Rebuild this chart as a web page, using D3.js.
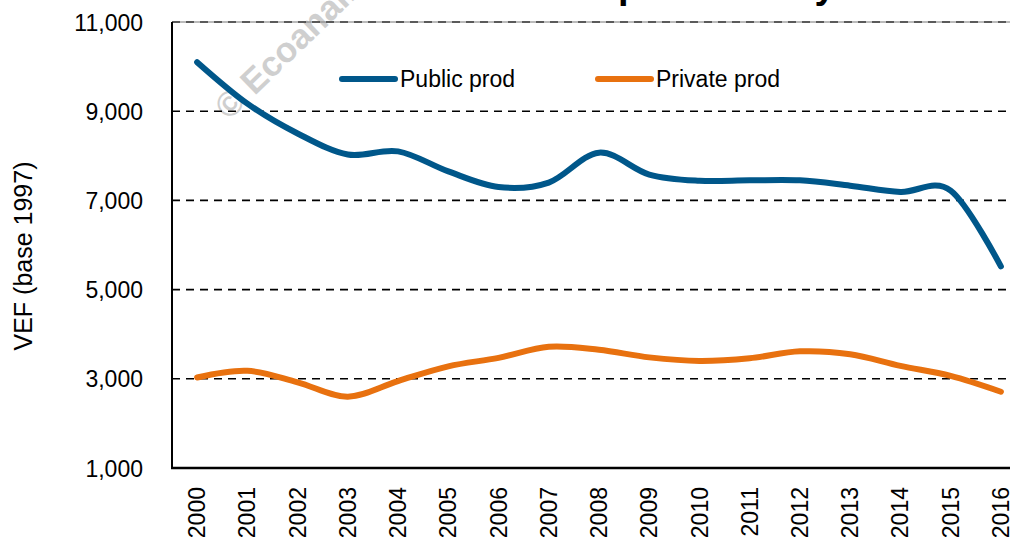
<!DOCTYPE html>
<html>
<head>
<meta charset="utf-8">
<script src="https://cdn.jsdelivr.net/npm/d3@7"></script>
<style>
  body { margin: 0; background: #fff; }
  svg { display: block; font-family: "Liberation Sans", Arial, sans-serif; }
</style>
</head>
<body>
<svg id="chart" width="1010" height="540"></svg>
<script>
var years = ["2000","2001","2002","2003","2004","2005","2006","2007","2008","2009","2010","2011","2012","2013","2014","2015","2016"];
var publicProd = [10100, 9170, 8500, 8030, 8100, 7650, 7300, 7400, 8070, 7580, 7440, 7450, 7450, 7330, 7190, 7220, 5520];
var privateProd = [3030, 3180, 2920, 2600, 2950, 3280, 3470, 3720, 3650, 3480, 3400, 3460, 3615, 3550, 3290, 3065, 2710];
var yTicks = [1000, 3000, 5000, 7000, 9000, 11000];
var seriesNames = ["Public prod", "Private prod"];
var seriesColors = ["#00578A", "#E8710F"];

var cfg = {
  left : 172,
  top : 22,
  bottom : 468,
  right : 1026,
  lineWidth : 6
};

var svg = d3.select("#chart");

var x = d3.scaleBand()
  .domain(years)
  .range([cfg.left, cfg.right]);
var y = d3.scaleLinear()
  .domain([1000, 11000])
  .range([cfg.bottom, cfg.top]);

function xc(d){
  return x(d) + x.bandwidth()/2;
}

// title, cut off by the top of the picture
svg.append("text")
  .attr("x", 502)
  .attr("y", -2)
  .attr("font-size", 38)
  .attr("font-weight", "bold")
  .attr("fill", "#000")
  .text("Labor productivity");

// watermark
svg.append("text")
  .attr("transform", "translate(229,121) rotate(-44)")
  .attr("font-size", 35)
  .attr("font-weight", "bold")
  .attr("fill", "#cfcfcf")
  .text("\u00a9 Ecoanal\u00edtica");

// dashed grid
svg.append("g")
  .selectAll("line")
  .data(yTicks.filter(function(d){ return d > 1000; }))
  .enter()
  .append("line")
  .attr("x1", cfg.left)
  .attr("x2", cfg.right)
  .attr("y1", function(d){ return y(d); })
  .attr("y2", function(d){ return y(d); })
  .attr("stroke", "#000")
  .attr("stroke-width", 1.6)
  .attr("stroke-dasharray", "8,6");

// frame top
svg.append("line")
  .attr("x1", cfg.left).attr("x2", cfg.right)
  .attr("y1", y(11000)).attr("y2", y(11000))
  .attr("stroke", "#777")
  .attr("stroke-width", 1);

// y axis labels
var yAxis = svg.append("g")
  .attr("transform", "translate(" + (cfg.left - 29) + ",0)")
  .call(d3.axisLeft(y).tickValues(yTicks).tickSize(0).tickPadding(0).tickFormat(d3.format(",")));
yAxis.select(".domain").remove();
yAxis.selectAll("text")
  .attr("font-size", 23)
  .attr("font-family", "Liberation Sans, Arial, sans-serif")
  .attr("fill", "#000")
  .attr("dy", "0.35em");

// x axis labels
var xAxis = svg.append("g")
  .attr("transform", "translate(0," + cfg.bottom + ")")
  .call(d3.axisBottom(x).tickSize(0));
xAxis.select(".domain").remove();
xAxis.selectAll("text")
  .attr("font-size", 23)
  .attr("font-family", "Liberation Sans, Arial, sans-serif")
  .attr("fill", "#000")
  .attr("text-anchor", "end")
  .attr("transform", "rotate(-90)")
  .attr("x", -19)
  .attr("y", 0)
  .attr("dy", "0.35em");

// axis lines
svg.append("line")
  .attr("x1", cfg.left).attr("x2", cfg.left)
  .attr("y1", cfg.top).attr("y2", cfg.bottom)
  .attr("stroke", "#000").attr("stroke-width", 2);
svg.append("line")
  .attr("x1", cfg.left - 1).attr("x2", cfg.right)
  .attr("y1", cfg.bottom).attr("y2", cfg.bottom)
  .attr("stroke", "#000").attr("stroke-width", 2.5);

// y axis title
svg.append("text")
  .attr("transform", "translate(23,256) rotate(-90)")
  .attr("text-anchor", "middle")
  .attr("dy", "0.35em")
  .attr("font-size", 25)
  .attr("fill", "#000")
  .text("VEF (base 1997)");

// series
var line = d3.line()
  .x(function(d, i){ return xc(years[i]); })
  .y(function(d){ return y(d); })
  .curve(d3.curveCardinal.tension(0));

[publicProd, privateProd].forEach(function(values, k){
  svg.append("path")
    .datum(values)
    .attr("d", line)
    .attr("fill", "none")
    .attr("stroke", seriesColors[k])
    .attr("stroke-width", cfg.lineWidth)
    .attr("stroke-linecap", "round")
    .attr("stroke-linejoin", "round");
});

// legend
var legendX = [342, 598];
seriesNames.forEach(function(name, k){
  var g = svg.append("g").attr("transform", "translate(" + legendX[k] + ",79)");
  g.append("line")
    .attr("x1", 0).attr("x2", 53)
    .attr("stroke", seriesColors[k])
    .attr("stroke-width", cfg.lineWidth)
    .attr("stroke-linecap", "round");
  g.append("text")
    .attr("x", 58)
    .attr("dy", "0.35em")
    .attr("font-size", 23)
    .attr("fill", "#000")
    .text(name);
});
</script>
</body>
</html>
